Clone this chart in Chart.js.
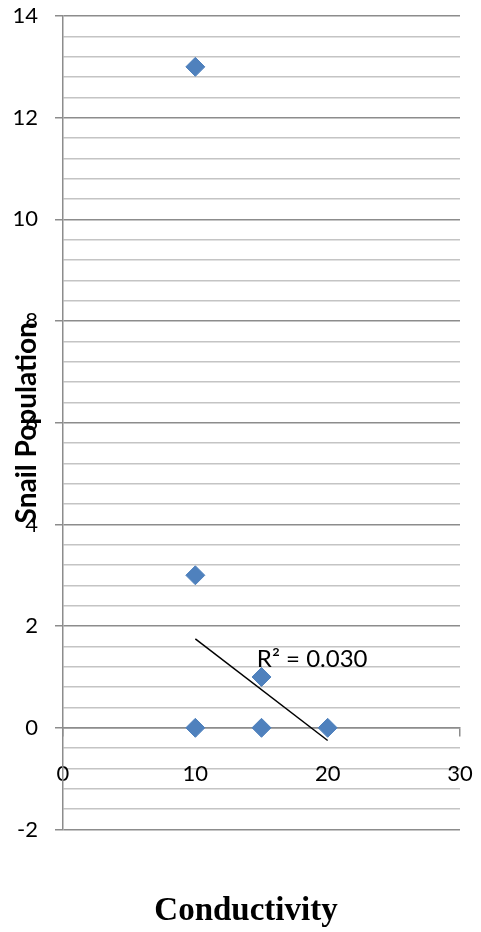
<!DOCTYPE html>
<html>
<head>
<meta charset="utf-8">
<script src="https://cdn.jsdelivr.net/npm/chart.js@4"></script>
<style>
  html, body { margin: 0; padding: 0; background: #fff; }
  #wrap { width: 481px; height: 932px; }
</style>
</head>
<body>
<div id="wrap"><canvas id="myChart"></canvas></div>
<script>
// data
const conductivity = [10, 10, 10, 15, 15, 20];
const snails = [13, 3, 0, 1, 0, 0];
const trendX = [10, 20];
const trendY = [1.75, -0.25];
const r2Label = 'R² = 0.030';
const r2At = [14.65, 1.35];
const xTitle = 'Conductivity';

const isMajor = (v) => Math.abs(v / 2 - Math.round(v / 2)) < 1e-6;

// R² note next to the trend line, and the x title under the plot
const textPlugin = {
  id: 'texts',
  afterDatasetsDraw(chart) {
    const { ctx, scales, chartArea } = chart;
    ctx.save();
    ctx.font = '24px Lato';
    ctx.fillStyle = '#000';
    ctx.textBaseline = 'middle';
    ctx.fillText(r2Label, scales.x.getPixelForValue(r2At[0]), scales.y.getPixelForValue(r2At[1]));
    ctx.font = 'bold 33px "Liberation Serif"';
    ctx.textAlign = 'center';
    ctx.fillText(xTitle, 246, chartArea.bottom + 82);
    ctx.restore();
  },
};

// let the layout padding decide the plot box, not the label overhang
const noPad = (scale) => {
  scale.paddingTop = 0;
  scale.paddingBottom = 0;
  scale.paddingLeft = 0;
  scale.paddingRight = 0;
};

new Chart(document.getElementById('myChart').getContext('2d'), {
  type: 'scatter',
  data: {
    datasets: [
      {
        label: 'Snails',
        data: conductivity.map((x, i) => ({ x, y: snails[i] })),
        pointStyle: 'rectRot',
        pointRadius: 9.5,
        pointBackgroundColor: '#4F81BD',
        pointBorderColor: '#4F81BD',
        pointBorderWidth: 1,
        order: 2,
      },
      {
        type: 'line',
        label: 'Trend',
        data: trendX.map((x, i) => ({ x, y: trendY[i] })),
        borderColor: '#000',
        borderWidth: 1.5,
        pointRadius: 0,
        order: 1,
      },
    ],
  },
  plugins: [textPlugin],
  options: {
    animation: false,
    responsive: true,
    maintainAspectRatio: false,
    layout: { padding: { left: 0, right: 21, top: 16, bottom: 102.5 } },
    plugins: {
      legend: { display: false },
      tooltip: { enabled: false },
    },
    scales: {
      x: {
        type: 'linear',
        position: { y: 0 },
        min: 0,
        max: 30,
        afterFit: noPad,
        ticks: { stepSize: 10, color: '#000', font: { family: 'Lato', size: 22 }, padding: 25, maxRotation: 0 },
        grid: { drawOnChartArea: false, color: '#8c8c8c', tickLength: 8, lineWidth: 1.5 },
        border: { color: '#8c8c8c', width: 1.5 },
      },
      y: {
        min: -2,
        max: 14,
        afterFit: (scale) => { scale.width = 63; noPad(scale); },
        ticks: {
          stepSize: 0.4,
          autoSkip: false,
          color: '#000',
          font: { family: 'Lato', size: 22 },
          padding: 17,
          callback: (v) => (isMajor(v) ? String(Math.round(v)) : ''),
        },
        grid: {
          color: (c) => (isMajor(c.tick.value) ? '#8c8c8c' : '#c4c4c4'),
          tickColor: (c) => (isMajor(c.tick.value) ? '#8c8c8c' : 'rgba(0,0,0,0)'),
          lineWidth: 1.5,
          tickLength: 8,
        },
        border: { color: '#8c8c8c', width: 1.5 },
        title: {
          display: true,
          text: 'Snail Population',
          color: '#000',
          font: { family: 'Lato', weight: 'bold', size: 28 },
          padding: { top: 10, bottom: 0 },
        },
      },
    },
  },
});
</script>
</body>
</html>
